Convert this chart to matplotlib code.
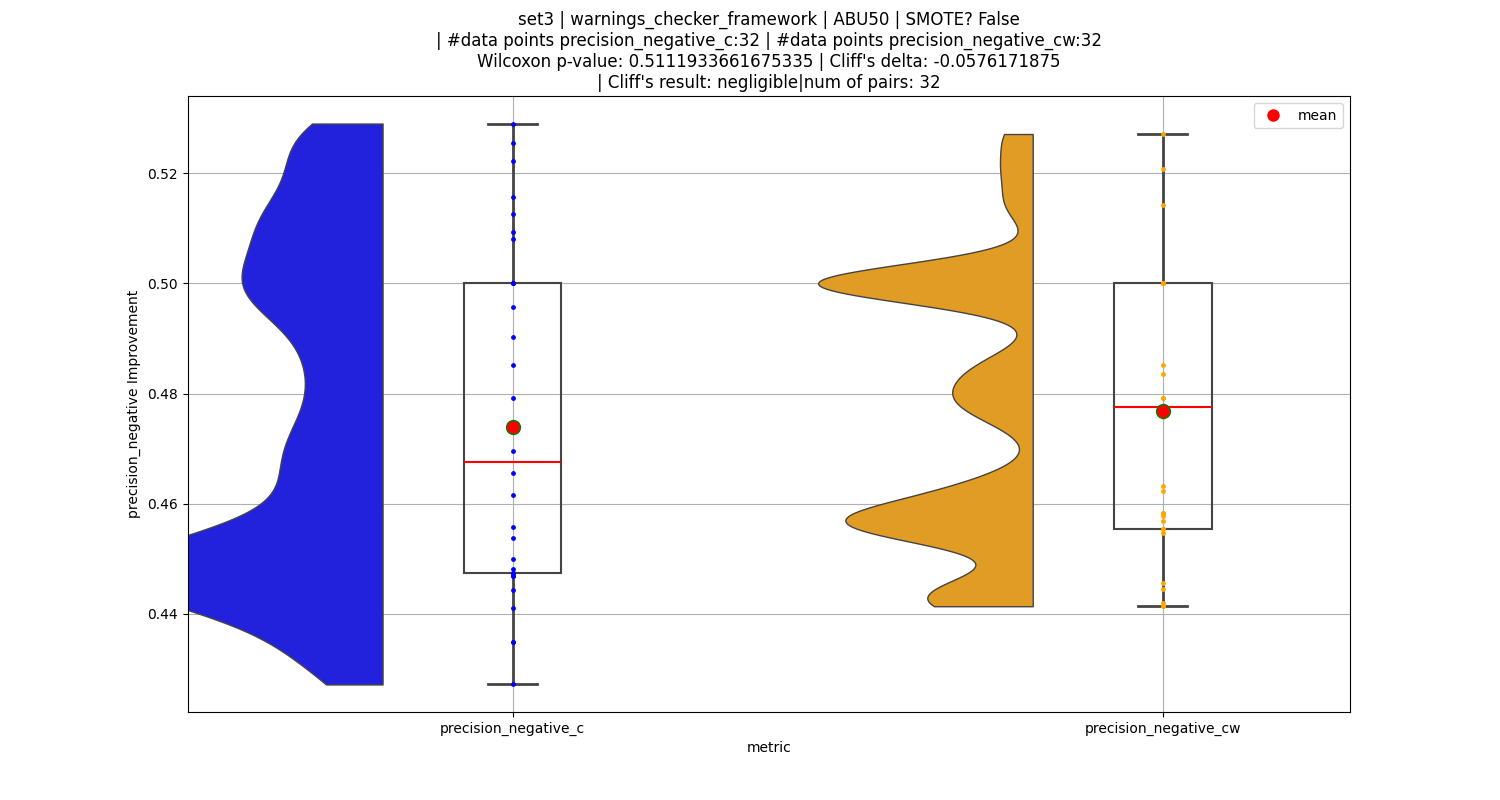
import numpy as np
import matplotlib
matplotlib.use("Agg")
import matplotlib.pyplot as plt
from matplotlib.lines import Line2D

categories = ["precision_negative_c", "precision_negative_cw"]
vals_c = [0.5290, 0.5255, 0.5222, 0.5156, 0.5125, 0.5093, 0.5081, 0.5000, 0.5000, 0.5000,
          0.4957, 0.4902, 0.4851, 0.4791, 0.4730, 0.4696, 0.4656, 0.4615, 0.4558, 0.4537,
          0.4499, 0.4482, 0.4475, 0.4475, 0.4468, 0.4468, 0.4443, 0.4411, 0.4349, 0.4349,
          0.4272, 0.4475]
vals_cw = [0.5271, 0.5208, 0.5142, 0.5000, 0.5000, 0.5000, 0.5000, 0.5000, 0.5000, 0.5000,
           0.5000, 0.5000, 0.4852, 0.4835, 0.4792, 0.4792, 0.4633, 0.4623, 0.4758, 0.4584,
           0.4584, 0.4577, 0.4569, 0.4554, 0.4554, 0.4554, 0.4547, 0.4457, 0.4445, 0.4419,
           0.4414, 0.4414]
data = [np.array(vals_c), np.array(vals_cw)]
violin_colors = ["#2222dd", "#e09c24"]
point_colors = ["blue", "orange"]
bws = [0.006, 0.0035]
maxw = [0.42, 0.33]

fig, ax = plt.subplots(figsize=(15, 8), dpi=100)
ax.grid(True, color="#b0b0b0", zorder=0)
ax.set_axisbelow(True)

for i, d in enumerate(data):
    ys = np.linspace(d.min(), d.max(), 300)
    dens = np.exp(-0.5 * ((ys[:, None] - d[None, :]) / bws[i]) ** 2).sum(axis=1)
    w = dens / dens.max() * maxw[i]
    right = i - 0.2
    ax.fill_betweenx(ys, right - w, right, facecolor=violin_colors[i],
                     edgecolor="#444444", linewidth=1, zorder=2)

ax.boxplot(data, positions=[0, 1], widths=0.15, whis=(0, 100), patch_artist=True,
           boxprops=dict(facecolor="none", edgecolor="#444444", linewidth=1.5),
           whiskerprops=dict(color="#444444", linewidth=2),
           capprops=dict(color="#444444", linewidth=2),
           medianprops=dict(color="red", linewidth=1.5),
           showfliers=False, zorder=3)

for i, d in enumerate(data):
    ax.scatter(np.full(len(d), i), d, s=6, color=point_colors[i], zorder=4)
    ax.plot(i, d.mean(), "o", markersize=10, markerfacecolor="red",
            markeredgecolor="green", zorder=5)

ax.set_xticks([0, 1])
ax.set_xticklabels(categories)
ax.set_xlim(-0.5, 1.288)
ax.set_ylim(0.4222, 0.5340)
ax.set_xlabel("metric")
ax.set_ylabel("precision_negative Improvement")
ax.set_title("set3 | warnings_checker_framework | ABU50 | SMOTE? False\n"
             "| #data points precision_negative_c:32 | #data points precision_negative_cw:32\n"
             "Wilcoxon p-value: 0.5111933661675335 | Cliff's delta: -0.0576171875\n"
             "| Cliff's result: negligible|num of pairs: 32")
ax.legend(handles=[Line2D([], [], marker="o", color="w", markerfacecolor="red",
                          markersize=10, label="mean")], loc="upper right")
plt.savefig("out.png")
